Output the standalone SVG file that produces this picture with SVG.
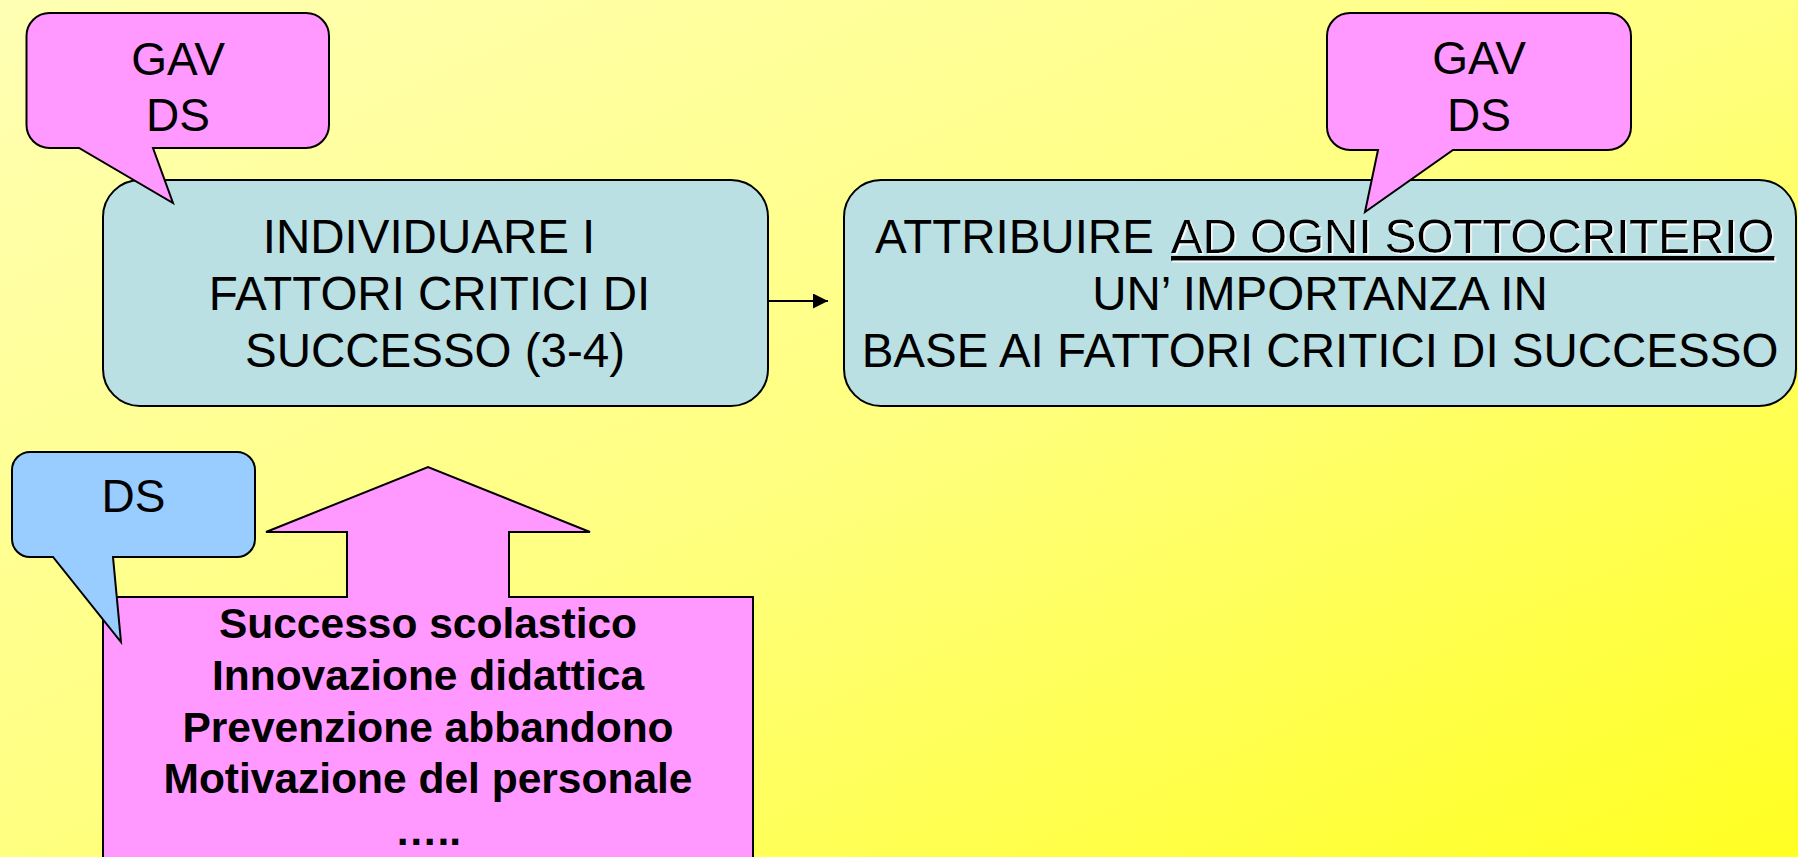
<svg xmlns="http://www.w3.org/2000/svg" width="1798" height="857" viewBox="0 0 1798 857">
<defs>
<linearGradient id="bg" x1="0" y1="0" x2="1" y2="1">
<stop offset="0" stop-color="#FFFFB4"/>
<stop offset="0.5" stop-color="#FFFF80"/>
<stop offset="1" stop-color="#FFFF22"/>
</linearGradient>
<marker id="ah" markerWidth="16" markerHeight="16" refX="15" refY="7.5" orient="auto" markerUnits="userSpaceOnUse">
<path d="M0,0 L15,7.5 L0,15 Z" fill="#000"/>
</marker>
<filter id="wsh" x="-5%" y="-20%" width="110%" height="140%">
<feDropShadow dx="1.5" dy="1.5" stdDeviation="0" flood-color="#FFFFFF" flood-opacity="1"/>
</filter>
</defs>
<style>
.box{fill:#BAE0E4;stroke:#000;stroke-width:2}
.pink{fill:#FF99FF;stroke:#000;stroke-width:2;stroke-linejoin:miter}
.blue{fill:#99CCFF;stroke:#000;stroke-width:2}
.t{font-family:"Liberation Sans",Arial,sans-serif;font-size:47.5px;fill:#000}
.c{font-family:"Liberation Sans",Arial,sans-serif;font-size:46px;fill:#000;text-anchor:middle}
.b{font-family:"Liberation Sans",Arial,sans-serif;font-size:42.5px;font-weight:bold;fill:#000;text-anchor:middle}
.m{text-anchor:middle}
.conn{stroke:#000;stroke-width:2;fill:none}
</style>
<rect x="0" y="0" width="1798" height="857" fill="url(#bg)"/>

<g id="factors-arrow">
<path class="pink" d="M103,597 H347 V532 H266 L428,467 L590,532 H509 V597 H753 V870 H103 Z"/>
<text class="b" x="428" y="638">Successo scolastico</text>
<text class="b" x="428" y="690">Innovazione didattica</text>
<text class="b" x="428" y="742">Prevenzione abbandono</text>
<text class="b" x="428" y="793">Motivazione del personale</text>
<text class="b" x="428" y="845">…..</text>
</g>

<g id="box-individuare">
<rect class="box" x="103" y="180" width="665" height="226" rx="37" ry="37"/>
<text class="t m" x="429" y="253">INDIVIDUARE I</text>
<text class="t m" x="429.5" y="310">FATTORI CRITICI DI</text>
<text class="t m" x="435" y="367">SUCCESSO (3-4)</text>
</g>

<g id="box-attribuire">
<rect class="box" x="844" y="180" width="952" height="226" rx="37" ry="37"/>
<text class="t" x="875" y="253">ATTRIBUIRE</text>
<text class="t" x="1171" y="253" text-decoration="underline" filter="url(#wsh)">AD OGNI SOTTOCRITERIO</text>
<text class="t m" x="1320" y="310">UN’ IMPORTANZA IN</text>
<text class="t m" x="1320" y="367">BASE AI FATTORI CRITICI DI SUCCESSO</text>
</g>

<g id="connectors">
<line class="conn" x1="768" y1="301" x2="828" y2="301" marker-end="url(#ah)"/>
</g>

<g id="callout-gav-ds-1">
<path class="pink" d="M49.5,13 H306 A23,23 0 0 1 329,36 V125 A23,23 0 0 1 306,148 H153 L173,203 L79,148 H49.5 A23,23 0 0 1 26.5,125 V36 A23,23 0 0 1 49.5,13 Z"/>
<text class="c" x="178" y="75">GAV</text>
<text class="c" x="178" y="131">DS</text>
</g>

<g id="callout-gav-ds-2">
<path class="pink" d="M1350,13 H1608 A23,23 0 0 1 1631,36 V127 A23,23 0 0 1 1608,150 H1453 L1365,212 L1378,150 H1350 A23,23 0 0 1 1327,127 V36 A23,23 0 0 1 1350,13 Z"/>
<text class="c" x="1479" y="74">GAV</text>
<text class="c" x="1479" y="131">DS</text>
</g>

<g id="callout-ds">
<path class="blue" d="M30,452 H237 A18,18 0 0 1 255,470 V539 A18,18 0 0 1 237,557 H113 L121,642 L53,557 H30 A18,18 0 0 1 12,539 V470 A18,18 0 0 1 30,452 Z"/>
<text class="c" x="133.5" y="512">DS</text>
</g>
</svg>
